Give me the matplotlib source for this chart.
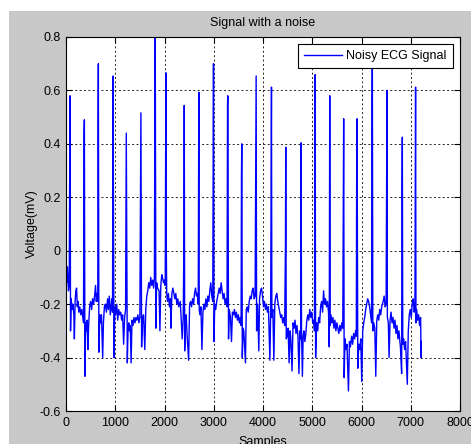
import numpy as np
import matplotlib
matplotlib.use('Agg')
import matplotlib.pyplot as plt
from matplotlib.patches import Rectangle

# R peaks (sample index, mV)
r_samples = [82, 373, 657, 954, 1224, 1521, 1812, 2028, 2401, 2697, 2995, 3286, 3569,
             3861, 4172, 4462, 4774, 5058, 5355, 5638, 5910, 6220, 6518, 6829, 7098]
r_mv = [0.58, 0.49, 0.70, 0.654, 0.44, 0.516, 0.81, 0.666, 0.544, 0.593, 0.70, 0.58, 0.40,
        0.654, 0.6125, 0.3875, 0.404, 0.659, 0.58, 0.494, 0.494, 0.72, 0.60, 0.425, 0.6125]

# rising/falling edge samples next to some of the peaks
edge_pts = [(76, 0.38), (367, 0.43), (651, 0.46), (948, 0.08), (1218, 0.20), (1515, 0.25),
            (1806, 0.63), (2034, 0.06), (2395, 0.05), (3280, 0.55), (3563, 0.28),
            (4166, 0.26), (4456, 0.02), (5904, 0.47), (6214, 0.56), (6823, 0.22)]

# noisy baseline between the beats (sample index, mV)
baseline_pts = [
    (0, -0.04), (15, -0.12), (30, -0.06), (50, -0.15), (65, -0.13), (92, -0.30),
    (105, -0.18), (125, -0.22), (140, -0.20), (160, -0.24), (170, -0.33), (185, -0.19),
    (200, -0.15), (215, -0.14), (230, -0.21), (245, -0.19), (260, -0.23), (280, -0.21),
    (300, -0.24), (320, -0.22), (340, -0.25), (355, -0.27), (384, -0.47), (400, -0.27),
    (415, -0.30), (430, -0.26), (445, -0.37), (460, -0.28), (480, -0.21), (500, -0.19),
    (520, -0.22), (540, -0.18), (560, -0.20), (580, -0.17), (600, -0.13), (615, -0.19),
    (630, -0.16), (645, -0.19), (668, -0.38), (685, -0.24), (700, -0.27), (720, -0.24),
    (745, -0.40), (760, -0.27), (780, -0.21), (800, -0.20), (820, -0.23), (845, -0.18),
    (860, -0.22), (880, -0.17), (900, -0.24), (915, -0.21), (930, -0.18), (945, -0.23),
    (975, -0.40), (990, -0.21), (1010, -0.24), (1030, -0.20), (1050, -0.26), (1070, -0.22),
    (1090, -0.24), (1110, -0.23), (1130, -0.26), (1150, -0.24), (1170, -0.35), (1190, -0.25),
    (1210, -0.22), (1245, -0.42), (1260, -0.29), (1275, -0.27), (1290, -0.30), (1305, -0.28),
    (1322, -0.42), (1340, -0.26), (1360, -0.28), (1380, -0.25), (1400, -0.27), (1420, -0.25),
    (1440, -0.26), (1460, -0.24), (1480, -0.27), (1500, -0.25), (1535, -0.36), (1555, -0.25),
    (1575, -0.24), (1600, -0.37), (1620, -0.22), (1640, -0.17), (1660, -0.15), (1680, -0.12),
    (1700, -0.14), (1720, -0.10), (1740, -0.13), (1760, -0.11), (1780, -0.14), (1795, -0.10),
    (1825, -0.29), (1840, -0.12), (1860, -0.14), (1890, -0.15), (1907, -0.30), (1925, -0.13),
    (1945, -0.09), (1960, -0.10), (1980, -0.12), (2000, -0.11), (2015, -0.13), (2045, -0.16),
    (2060, -0.19), (2080, -0.16), (2100, -0.21), (2120, -0.18), (2130, -0.29), (2150, -0.16),
    (2170, -0.14), (2190, -0.16), (2210, -0.18), (2230, -0.16), (2250, -0.20), (2270, -0.18),
    (2290, -0.21), (2320, -0.19), (2340, -0.26), (2360, -0.33), (2380, -0.25), (2410, -0.375),
    (2425, -0.28), (2440, -0.24), (2460, -0.32), (2490, -0.41), (2510, -0.20), (2530, -0.19),
    (2550, -0.21), (2570, -0.18), (2590, -0.20), (2610, -0.16), (2630, -0.14), (2650, -0.17),
    (2670, -0.16), (2685, -0.20), (2705, -0.22), (2720, -0.24), (2740, -0.21), (2760, -0.37),
    (2780, -0.23), (2800, -0.20), (2820, -0.22), (2840, -0.18), (2860, -0.21), (2880, -0.17),
    (2900, -0.19), (2920, -0.15), (2940, -0.12), (2960, -0.17), (2980, -0.19), (3005, -0.34),
    (3020, -0.20), (3040, -0.22), (3060, -0.19), (3090, -0.16), (3110, -0.14), (3130, -0.16),
    (3150, -0.12), (3170, -0.15), (3190, -0.18), (3210, -0.16), (3230, -0.20), (3250, -0.18),
    (3270, -0.21), (3300, -0.33), (3315, -0.22), (3340, -0.25), (3360, -0.34), (3380, -0.23),
    (3400, -0.24), (3420, -0.22), (3440, -0.25), (3460, -0.23), (3480, -0.26), (3500, -0.24),
    (3520, -0.27), (3540, -0.25), (3555, -0.28), (3580, -0.40), (3595, -0.29), (3610, -0.30),
    (3644, -0.42), (3660, -0.22), (3680, -0.21), (3700, -0.23), (3720, -0.19), (3740, -0.17),
    (3760, -0.18), (3780, -0.15), (3800, -0.14), (3820, -0.18), (3840, -0.17), (3870, -0.30),
    (3890, -0.20), (3915, -0.375), (3930, -0.18), (3950, -0.15), (3970, -0.14), (3990, -0.17),
    (4010, -0.21), (4030, -0.19), (4050, -0.22), (4070, -0.20), (4090, -0.23), (4110, -0.21),
    (4140, -0.41), (4155, -0.24), (4180, -0.25), (4200, -0.22), (4220, -0.41), (4240, -0.20),
    (4260, -0.17), (4280, -0.16), (4300, -0.19), (4320, -0.21), (4340, -0.23), (4360, -0.25),
    (4380, -0.24), (4400, -0.27), (4420, -0.25), (4440, -0.28), (4472, -0.33), (4490, -0.32),
    (4510, -0.29), (4530, -0.42), (4550, -0.30), (4565, -0.33), (4590, -0.45), (4610, -0.27),
    (4630, -0.29), (4650, -0.26), (4670, -0.31), (4690, -0.28), (4710, -0.32), (4730, -0.46),
    (4750, -0.30), (4765, -0.33), (4782, -0.30), (4800, -0.47), (4815, -0.32), (4830, -0.30),
    (4850, -0.34), (4870, -0.31), (4890, -0.26), (4910, -0.24), (4930, -0.26), (4950, -0.22),
    (4970, -0.25), (4990, -0.23), (5010, -0.27), (5030, -0.26), (5045, -0.30), (5068, -0.40),
    (5090, -0.27), (5110, -0.30), (5130, -0.25), (5150, -0.27), (5170, -0.21), (5190, -0.19),
    (5210, -0.23), (5230, -0.15), (5250, -0.20), (5270, -0.18), (5290, -0.21), (5310, -0.19),
    (5330, -0.23), (5345, -0.36), (5365, -0.28), (5380, -0.24), (5400, -0.27), (5420, -0.25),
    (5440, -0.29), (5460, -0.26), (5480, -0.30), (5500, -0.27), (5520, -0.29), (5540, -0.31),
    (5560, -0.28), (5580, -0.30), (5600, -0.27), (5620, -0.29), (5648, -0.475), (5665, -0.33),
    (5685, -0.37), (5705, -0.35), (5735, -0.525), (5755, -0.34), (5775, -0.36), (5800, -0.32),
    (5820, -0.35), (5840, -0.31), (5860, -0.33), (5880, -0.30), (5895, -0.32), (5925, -0.44),
    (5945, -0.35), (5965, -0.37), (5985, -0.33), (6005, -0.49), (6025, -0.30), (6045, -0.27),
    (6065, -0.25), (6085, -0.22), (6105, -0.20), (6125, -0.18), (6145, -0.19), (6165, -0.21),
    (6185, -0.24), (6205, -0.27), (6230, -0.30), (6250, -0.27), (6270, -0.29), (6290, -0.47),
    (6310, -0.26), (6330, -0.24), (6350, -0.26), (6370, -0.22), (6390, -0.24), (6410, -0.21),
    (6440, -0.19), (6460, -0.17), (6480, -0.21), (6500, -0.20), (6525, -0.25), (6545, -0.27),
    (6560, -0.40), (6580, -0.26), (6600, -0.23), (6620, -0.27), (6640, -0.25), (6660, -0.29),
    (6680, -0.26), (6700, -0.31), (6720, -0.28), (6740, -0.33), (6760, -0.30), (6790, -0.36),
    (6815, -0.46), (6838, -0.35), (6855, -0.33), (6875, -0.37), (6895, -0.34), (6930, -0.50),
    (6950, -0.30), (6970, -0.24), (6990, -0.22), (7010, -0.25), (7030, -0.20), (7050, -0.18),
    (7070, -0.23), (7085, -0.21), (7106, -0.27), (7120, -0.22), (7140, -0.26), (7160, -0.24),
    (7180, -0.28), (7200, -0.25), (7210, -0.40), (7215, -0.34),
]

x_ticks = [0, 1000, 2000, 3000, 4000, 5000, 6000, 7000, 8000]
y_ticks = [-0.6, -0.4, -0.2, 0, 0.2, 0.4, 0.6, 0.8]
y_tick_labels = ['-0.6', '-0.4', '-0.2', '0', '0.2', '0.4', '0.6', '0.8']

# merge everything into one trace ordered by sample
pts = baseline_pts + edge_pts + list(zip(r_samples, r_mv))
pts.sort(key=lambda p: p[0])
samples = np.array([p[0] for p in pts])
mv = np.array([p[1] for p in pts])

plt.rcParams['font.family'] = ['Liberation Sans', 'DejaVu Sans']

fig = plt.figure(figsize=(4.71, 4.44), dpi=100)
fig.patch.set_facecolor('white')
# grey MATLAB figure background, offset from the top-left corner
fig.patches.append(Rectangle((9 / 471, 0), 1, 1 - 11 / 444, transform=fig.transFigure,
                             facecolor='#c8c8c8', edgecolor='none', zorder=-10))

ax = fig.add_axes([66 / 471, 1 - 411 / 444, 394 / 471, 374 / 444])
ax.set_facecolor('white')
ax.plot(samples, mv, color='#0000ff', linewidth=1.0, label='Noisy ECG Signal')

ax.set_xlim(0, 8000)
ax.set_ylim(-0.6, 0.8)
ax.set_xticks(x_ticks)
ax.set_xticklabels([str(t) for t in x_ticks])
ax.set_yticks(y_ticks)
ax.set_yticklabels(y_tick_labels)
ax.tick_params(direction='in', length=4, width=0.8, top=True, right=True,
               labelsize=9, pad=4, colors='black')
ax.grid(True, color='#222222', linestyle=(0, (2, 2.5)), linewidth=0.7)
for s in ax.spines.values():
    s.set_linewidth(0.8)
    s.set_color('black')

ax.set_title('Signal with a noise', fontsize=9, pad=8)
ax.set_xlabel('Samples', fontsize=9, labelpad=5)
ax.set_ylabel('Voltage(mV)', fontsize=9, labelpad=1)

leg = ax.legend(loc='upper right', fancybox=False, framealpha=1, edgecolor='black',
                fontsize=9, handlelength=3.0, handletextpad=0.4, borderpad=0.5,
                borderaxespad=0.55)
leg.get_frame().set_linewidth(0.8)

fig.savefig('out.png', dpi=100)
